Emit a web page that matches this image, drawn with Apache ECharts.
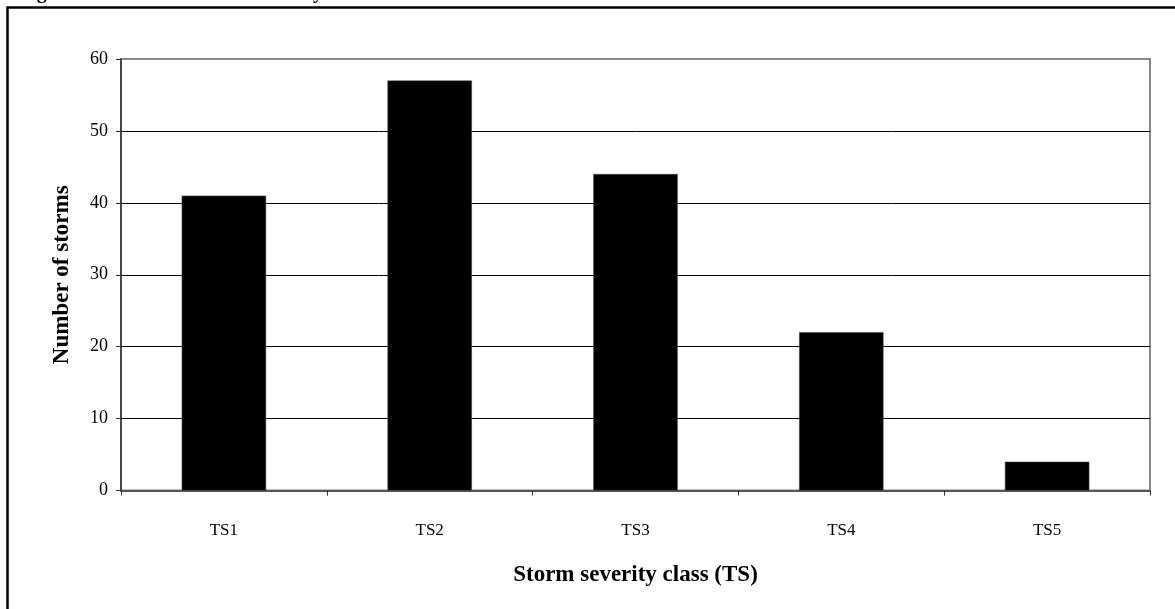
<!DOCTYPE html>
<html>
<head>
<meta charset="utf-8">
<style>
  html, body { margin: 0; padding: 0; background: #fff; }
  #chart { width: 1175px; height: 609px; }
</style>
<script src="https://cdn.jsdelivr.net/npm/echarts@6/dist/echarts.min.js"></script>
</head>
<body>
<div id="chart"></div>
<script>
// Storm counts per severity class
const categories = ['TS1', 'TS2', 'TS3', 'TS4', 'TS5'];
const stormCounts = [41, 57, 44, 22, 4];
const yTicks = { min: 0, max: 60, interval: 10 };

const serif = '"Liberation Serif", "Times New Roman", serif';

const chart = echarts.init(document.getElementById('chart'), null, { renderer: 'canvas' });

chart.setOption({
  backgroundColor: '#ffffff',
  animation: false,
  grid: {
    left: 121,
    right: 25,
    top: 59,
    bottom: 118.5,
    show: true,
    borderColor: '#888888',
    borderWidth: 2,
    backgroundColor: 'transparent'
  },
  xAxis: {
    type: 'category',
    data: categories,
    name: 'Storm severity class (TS)',
    nameLocation: 'middle',
    nameGap: 73,
    nameTextStyle: { fontFamily: serif, fontWeight: 'bold', fontSize: 23, color: '#000' },
    axisLine: { lineStyle: { color: '#555555', width: 2 } },
    axisTick: { show: true, length: 5, lineStyle: { color: '#333333', width: 1 } },
    axisLabel: { fontFamily: serif, fontSize: 17, color: '#000', margin: 32 },
    splitLine: { show: false }
  },
  yAxis: {
    type: 'value',
    min: yTicks.min,
    max: yTicks.max,
    interval: yTicks.interval,
    name: 'Number of storms',
    nameLocation: 'middle',
    nameGap: 47,
    nameTextStyle: { fontFamily: serif, fontWeight: 'bold', fontSize: 23, color: '#000' },
    axisLine: { show: true, lineStyle: { color: '#333333', width: 1.5 } },
    axisTick: { show: true, length: 5, lineStyle: { color: '#333333', width: 1 } },
    axisLabel: { fontFamily: serif, fontSize: 18, color: '#000', margin: 13 },
    splitLine: {
      show: true,
      showMinLine: false,
      showMaxLine: false,
      lineStyle: { color: '#000000', width: 1 }
    }
  },
  series: [{
    type: 'bar',
    data: stormCounts,
    barWidth: '41%',
    itemStyle: { color: '#000000', borderColor: '#444444', borderWidth: 0.5 }
  }],
  graphic: [
    // caption line above the frame
    {
      type: 'text', left: 19, top: -17, z: 10,
      style: { text: 'Figure 4.3:', font: 'bold 20px ' + serif, fill: '#000' }
    },
    {
      type: 'text', left: 198, top: -17, z: 10,
      style: { text: 'Storm severity', font: 'bold 20px ' + serif, fill: '#000' }
    },
    // frame around the chart box
    {
      type: 'polyline', z: 10,
      shape: { points: [[7.5, 609], [7.5, 7.5], [1175, 7.5]] },
      style: { stroke: '#000', lineWidth: 2.5, fill: null }
    }
  ]
});
</script>
</body>
</html>
